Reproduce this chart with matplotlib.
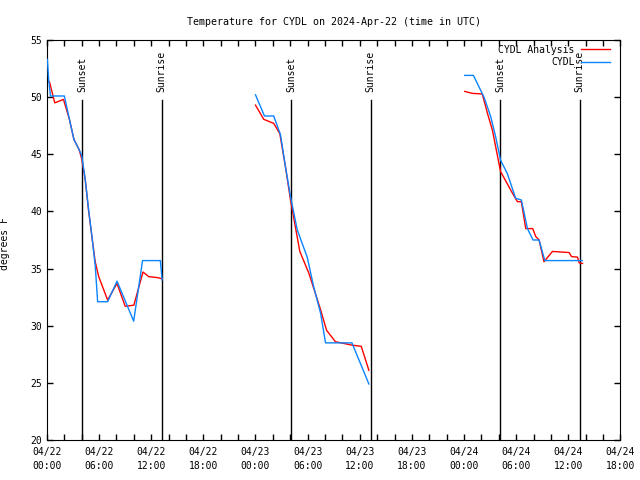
import matplotlib
matplotlib.use("Agg")
import matplotlib.pyplot as plt
from matplotlib.ticker import MultipleLocator

# hours since 2024-04-22 00:00 UTC
analysis_hours = [
    0.05, 0.3, 0.9, 1.9, 2.6, 3.1, 3.7, 4.0, 4.4, 4.8, 5.2, 5.55, 5.95, 6.98, 8.06, 9.0, 10.0, 11.05, 11.7, 12.8, 13.25,
    24.0, 24.95, 26.1, 26.8, 27.45, 28.03, 29.1, 30.14, 31.49, 32.18, 33.2, 35.1, 36.17, 37.05,
    48.08, 48.96, 50.1, 50.69, 51.27, 52.2, 53.57, 54.15, 54.6, 55.1, 55.9, 56.26, 56.64, 57.2, 58.18,
    60.1, 60.37, 61.06, 61.25, 61.64,
]
analysis_temp = [
    51.5, 51.3, 49.5, 49.8, 48.0, 46.3, 45.4, 44.6, 42.8, 40.0, 37.6, 35.6, 34.3, 32.25, 33.7, 31.7, 31.8, 34.7, 34.3, 34.2, 34.1,
    49.3, 48.06, 47.7, 46.8, 43.9, 41.0, 36.5, 34.6, 31.4, 29.6, 28.6, 28.3, 28.2, 26.1,
    50.5, 50.33, 50.28, 48.6, 47.1, 43.5, 41.6, 40.85, 40.85, 38.5, 38.5, 37.8, 37.5, 35.6, 36.5,
    36.4, 36.05, 36.0, 35.5, 35.45,
]
nan = float("nan")
obs_hours = [
    0.05, 0.2, 0.4, 2.0, 2.6, 3.1, 3.7, 4.0, 4.41, 4.8, 5.18, 5.56, 5.83, 6.98, 8.06, 9.98, 11.0, 13.05, 13.25,
    13.5,
    24.0, 25.03, 26.1, 26.88, 27.45, 28.03, 28.8, 29.95, 30.7, 31.49, 32.06, 35.1, 37.05,
    37.5,
    48.08, 49.08, 50.3, 51.07, 51.65, 52.2, 52.99, 53.94, 54.6, 55.3, 55.94, 56.64, 57.3, 61.6,
]
obs_temp = [
    53.3, 51.5, 50.1, 50.1, 48.0, 46.3, 45.4, 44.9, 42.75, 40.1, 37.8, 35.2, 32.1, 32.1, 33.9, 30.4, 35.7, 35.7, 34.0,
    nan,
    50.2, 48.35, 48.35, 46.7, 43.9, 41.3, 38.4, 36.0, 33.4, 31.1, 28.5, 28.5, 24.9,
    nan,
    51.9, 51.9, 50.0, 48.3, 46.5, 44.5, 43.3, 41.15, 41.0, 38.5, 37.5, 37.5, 35.7, 35.7,
]
# analysis gaps between days
gap_after = [13.25, 37.05]

sunset_hours = [4.05, 28.1, 52.15]
sunrise_hours = [13.2, 37.25, 61.3]

xtick_hours = [0, 6, 12, 18, 24, 30, 36, 42, 48, 54, 60, 66]
xtick_labels = [
    "04/22\n00:00", "04/22\n06:00", "04/22\n12:00", "04/22\n18:00",
    "04/23\n00:00", "04/23\n06:00", "04/23\n12:00", "04/23\n18:00",
    "04/24\n00:00", "04/24\n06:00", "04/24\n12:00", "04/24\n18:00",
]


def split_series(hours, temps, gaps):
    xs, ys = [], []
    for h, t in zip(hours, temps):
        xs.append(h)
        ys.append(t)
        if h in gaps:
            xs.append(h + 0.1)
            ys.append(nan)
    return xs, ys


plt.rcParams["font.family"] = ["DejaVu Sans Mono"]
plt.rcParams["font.size"] = 7

fig = plt.figure(figsize=(6.4, 4.8), dpi=100)
ax = fig.add_axes([0.0734, 0.0833, 0.896, 0.8334])

for h in sunset_hours + sunrise_hours:
    ax.plot([h, h], [20, 49.75], color="black", lw=1.0, zorder=1)
for h in sunset_hours:
    ax.text(h, 50.45, "Sunset", rotation=90, ha="center", va="bottom", fontsize=7)
for h in sunrise_hours:
    ax.text(h, 50.45, "Sunrise", rotation=90, ha="center", va="bottom", fontsize=7)

ax_x, ax_y = split_series(analysis_hours, analysis_temp, gap_after)
ax.plot(ax_x, ax_y, color="#ff0000", lw=1.0, label="CYDL Analysis", zorder=2)
ax.plot(obs_hours, obs_temp, color="#0a84ff", lw=1.0, label="CYDL", zorder=3)

ax.set_xlim(0, 66)
ax.set_ylim(20, 55)
ax.set_xticks(xtick_hours)
ax.set_xticklabels(xtick_labels, linespacing=1.45)
ax.xaxis.set_minor_locator(MultipleLocator(2))
ax.yaxis.set_major_locator(MultipleLocator(5))
ax.tick_params(axis="both", which="both", direction="in", top=True, right=True, length=4, width=1)
ax.tick_params(axis="x", pad=5)
ax.set_ylabel("degrees F")
ax.yaxis.set_label_coords(-0.064, 0.49)
ax.set_title("Temperature for CYDL on 2024-Apr-22 (time in UTC)", fontsize=7.2, pad=11)

leg = ax.legend(loc="upper right", frameon=False, markerfirst=False, handlelength=3.0,
                borderaxespad=0.1, labelspacing=0.25, handletextpad=0.6,
                bbox_to_anchor=(0.99, 1.0))
for t in leg.get_texts():
    t.set_ha("right")

fig.savefig("out.png", dpi=100)
